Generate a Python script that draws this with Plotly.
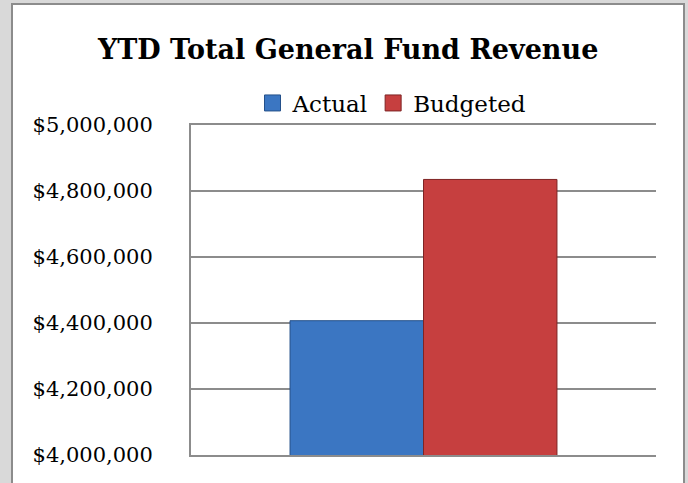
import plotly.graph_objects as go

categories = ["Revenue"]
series_names = ["Actual", "Budgeted"]
actual_values = [4407000]
budgeted_values = [4835000]
series_colors = ["#3b76c2", "#c63f3f"]
series_edges = ["#24508a", "#7e2424"]
y_ticks = [4000000, 4200000, 4400000, 4600000, 4800000, 5000000]
y_tick_labels = ["$4,000,000", "$4,200,000", "$4,400,000", "$4,600,000", "$4,800,000", "$5,000,000"]

W, H = 688, 483
ML, MR, MT, MB = 191, 32, 125, 28
PW, PH = W - ML - MR, H - MT - MB

def px_x(p):
    return (p - ML) / PW

def px_y(p):
    return (H - MB - p) / PH

FONT = "DejaVu Serif"

fig = go.Figure()
for name, vals, col, edge in zip(series_names, [actual_values, budgeted_values], series_colors, series_edges):
    fig.add_trace(go.Bar(
        x=categories, y=vals, name=name,
        marker=dict(color=col, line=dict(color=edge, width=1)),
        showlegend=False,
    ))
# legend entries with larger square swatches
for name, col, edge in zip(series_names, series_colors, series_edges):
    fig.add_trace(go.Scatter(
        x=[None], y=[None], mode="markers", name=name,
        marker=dict(symbol="square", size=16, color=col, line=dict(color=edge, width=1)),
        hoverinfo="skip",
    ))

fig.update_layout(
    width=W, height=H,
    margin=dict(l=ML, r=MR, t=MT, b=MB, pad=0),
    paper_bgcolor="#d9d9d9",
    plot_bgcolor="white",
    barmode="group",
    bargap=0.426,
    bargroupgap=0,
    title=dict(text="<b>YTD Total General Fund Revenue</b>", x=0.506, xanchor="center",
               y=1 - 50 / H, yanchor="middle",
               font=dict(family=FONT, size=27, color="black")),
    legend=dict(orientation="h", x=px_x(392), xanchor="center", y=px_y(103), yanchor="middle",
                font=dict(family=FONT, size=23, color="black"), bgcolor="rgba(0,0,0,0)",
                itemwidth=30, traceorder="normal"),
    showlegend=True,
    shapes=[dict(type="rect", xref="paper", yref="paper",
                 x0=px_x(12), x1=px_x(684), y0=px_y(500), y1=px_y(4),
                 fillcolor="white", line=dict(color="#8c8c8c", width=2), layer="below")],
)
fig.update_yaxes(range=[4000000, 5000000], tickvals=y_ticks, ticktext=y_tick_labels,
                 showline=True, linecolor="#8c8c8c", linewidth=2,
                 showgrid=True, gridcolor="#8c8c8c", gridwidth=2,
                 ticks="", ticklabelstandoff=32, zeroline=False,
                 tickfont=dict(family=FONT, size=21, color="black"))
fig.update_xaxes(showticklabels=False, showline=True, mirror=True, linecolor="#8c8c8c", linewidth=2,
                 ticks="", showgrid=False, range=[-0.5, 0.5])

fig.write_html("out.html", config={"displayModeBar": False},
               post_script="document.body.style.margin='0';")
